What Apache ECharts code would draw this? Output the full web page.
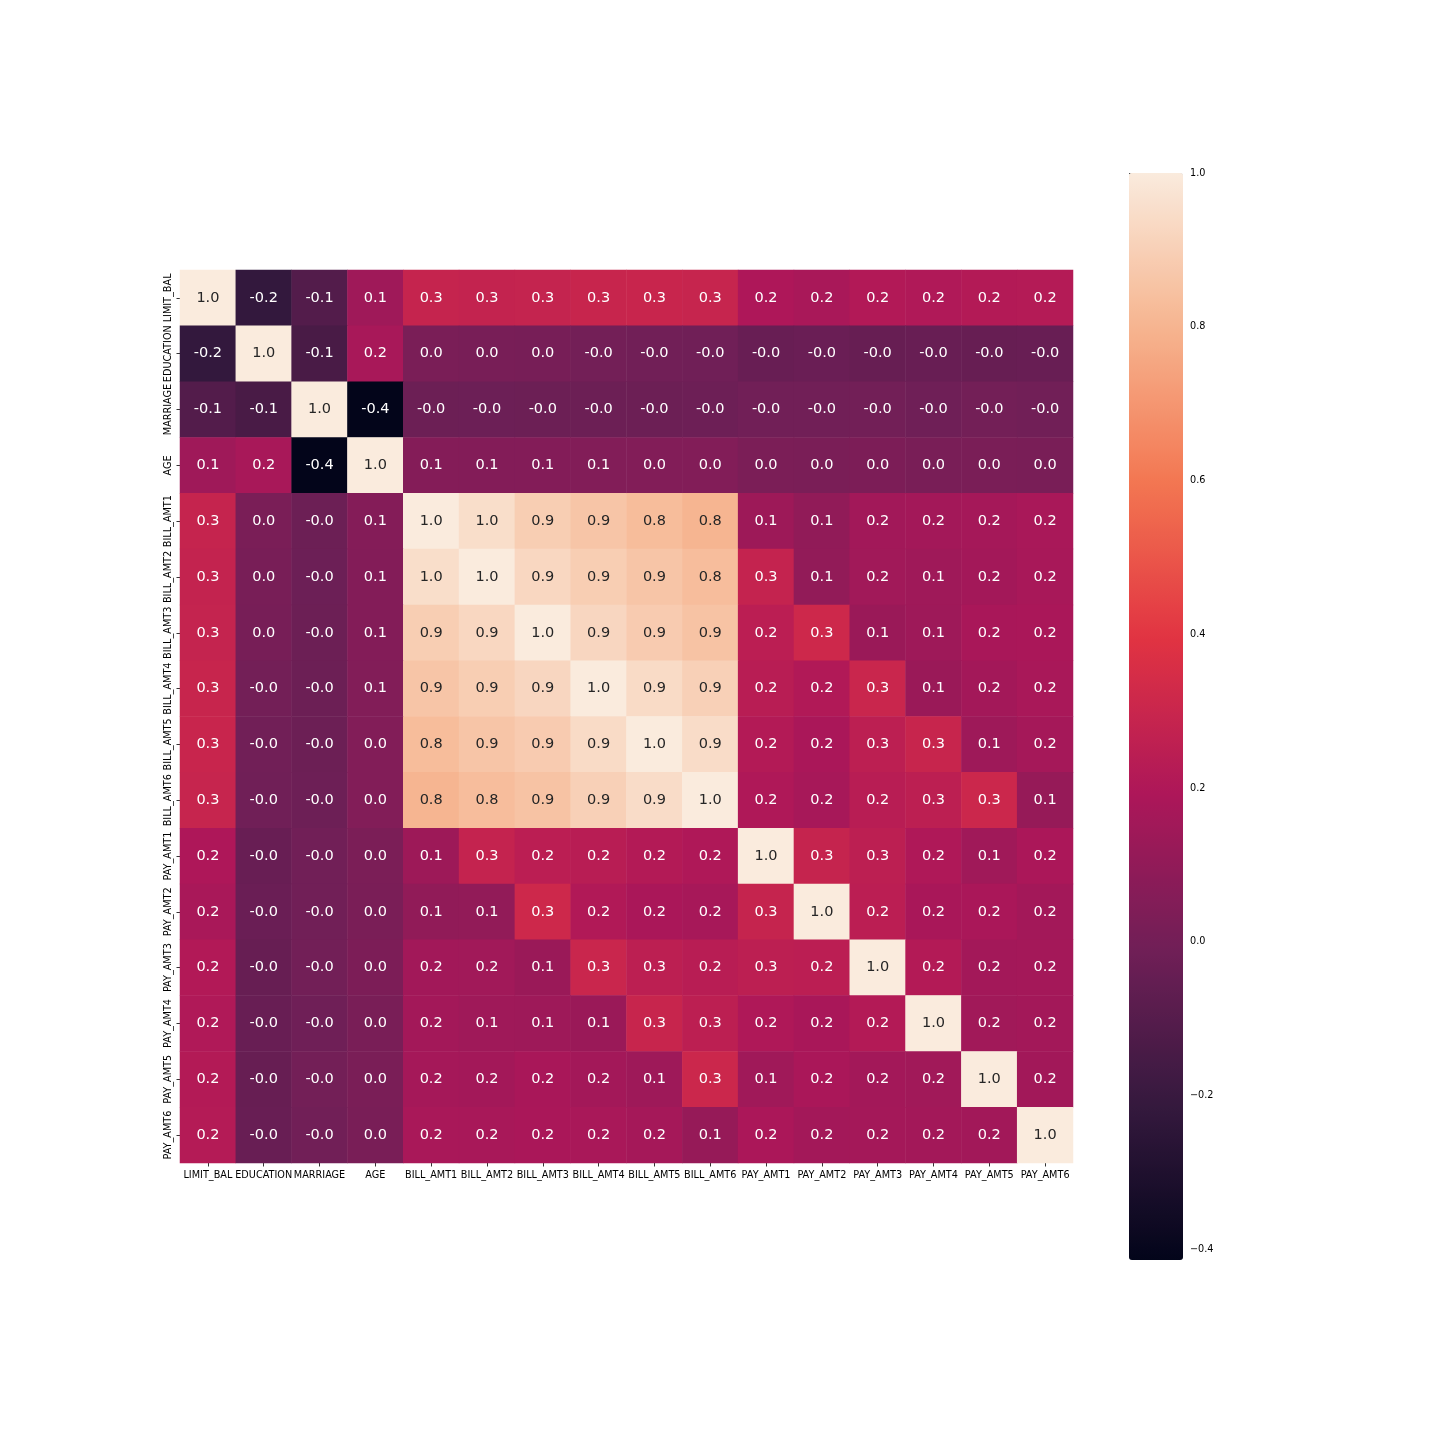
<!DOCTYPE html>
<html>
<head>
<meta charset="utf-8">
<script src="https://cdn.jsdelivr.net/npm/echarts@6/dist/echarts.min.js"></script>
<style>
  html, body { margin: 0; padding: 0; background: #fff; }
  #chart { width: 1440px; height: 1440px; }
</style>
</head>
<body>
<div id="chart"></div>
<script>
// column / row names
const labels = [
  "LIMIT_BAL", "EDUCATION", "MARRIAGE", "AGE",
  "BILL_AMT1", "BILL_AMT2", "BILL_AMT3", "BILL_AMT4", "BILL_AMT5", "BILL_AMT6",
  "PAY_AMT1", "PAY_AMT2", "PAY_AMT3", "PAY_AMT4", "PAY_AMT5", "PAY_AMT6"
];

// correlation matrix, one row per variable
const corr = [
  [1, -0.219, -0.108, 0.145, 0.285, 0.278, 0.283, 0.294, 0.296, 0.290, 0.195, 0.178, 0.210, 0.203, 0.217, 0.220],
  [-0.219, 1, -0.144, 0.175, 0.023, 0.018, 0.013, -0.0004, -0.008, -0.009, -0.037, -0.030, -0.040, -0.038, -0.040, -0.037],
  [-0.108, -0.144, 1, -0.414, -0.023, -0.022, -0.025, -0.023, -0.025, -0.021, -0.006, -0.008, -0.004, -0.013, -0.001, -0.007],
  [0.145, 0.175, -0.414, 1, 0.056, 0.054, 0.054, 0.051, 0.049, 0.048, 0.026, 0.022, 0.029, 0.021, 0.023, 0.019],
  [0.285, 0.023, -0.023, 0.056, 1, 0.951, 0.892, 0.860, 0.830, 0.803, 0.140, 0.099, 0.157, 0.159, 0.167, 0.179],
  [0.278, 0.018, -0.022, 0.054, 0.951, 1, 0.928, 0.892, 0.860, 0.832, 0.280, 0.101, 0.151, 0.147, 0.158, 0.174],
  [0.283, 0.013, -0.025, 0.054, 0.892, 0.928, 1, 0.924, 0.884, 0.853, 0.245, 0.317, 0.130, 0.143, 0.180, 0.182],
  [0.294, -0.0004, -0.023, 0.051, 0.860, 0.892, 0.924, 1, 0.940, 0.901, 0.233, 0.208, 0.300, 0.130, 0.160, 0.178],
  [0.296, -0.008, -0.025, 0.049, 0.830, 0.860, 0.884, 0.940, 1, 0.946, 0.217, 0.181, 0.252, 0.294, 0.142, 0.164],
  [0.290, -0.009, -0.021, 0.048, 0.803, 0.832, 0.853, 0.901, 0.946, 1, 0.200, 0.173, 0.234, 0.2504, 0.308, 0.115],
  [0.195, -0.037, -0.006, 0.026, 0.140, 0.280, 0.245, 0.233, 0.217, 0.200, 1, 0.286, 0.252, 0.200, 0.148, 0.186],
  [0.178, -0.030, -0.008, 0.022, 0.099, 0.101, 0.317, 0.208, 0.181, 0.173, 0.286, 1, 0.245, 0.180, 0.181, 0.158],
  [0.210, -0.040, -0.004, 0.029, 0.157, 0.151, 0.130, 0.300, 0.252, 0.234, 0.252, 0.245, 1, 0.216, 0.159, 0.163],
  [0.203, -0.038, -0.013, 0.021, 0.159, 0.147, 0.143, 0.130, 0.294, 0.2504, 0.200, 0.180, 0.216, 1, 0.152, 0.158],
  [0.217, -0.040, -0.001, 0.023, 0.167, 0.158, 0.180, 0.160, 0.142, 0.308, 0.148, 0.181, 0.159, 0.152, 1, 0.155],
  [0.220, -0.037, -0.007, 0.019, 0.179, 0.174, 0.182, 0.178, 0.164, 0.115, 0.186, 0.158, 0.163, 0.158, 0.155, 1]
];

// colorbar ticks
const cbarTicks = [-0.4, -0.2, 0.0, 0.2, 0.4, 0.6, 0.8, 1.0];
const vMin = -0.414;
const vMax = 1.0;

// seaborn "rocket" colormap, evenly spaced stops
const rocket = ["#03051a", "#35193e", "#701f57", "#ad1759", "#e13342", "#f37651", "#f6b48f", "#faebdd"];

const font = "DejaVu Sans";

const cells = [];
corr.forEach(function (row, y) {
  row.forEach(function (v, x) {
    cells.push({
      value: [x, y, v],
      label: { color: v > 0.6 ? "#262626" : "#ffffff" }
    });
  });
});

const chart = echarts.init(document.getElementById("chart"));
const option = {
  animation: false,
  backgroundColor: "#ffffff",
  grid: [
    { left: 180, top: 270, width: 893, height: 893, containLabel: false },
    { left: 1129, top: 173, width: 54, height: 1087, containLabel: false }
  ],
  xAxis: [
    {
      type: "category",
      gridIndex: 0,
      data: labels,
      position: "bottom",
      axisLine: { show: false },
      axisTick: { show: true, alignWithLabel: true, length: 3.5, lineStyle: { color: "#000", width: 0.8 } },
      axisLabel: { interval: 0, margin: 7, color: "#000", fontFamily: font, fontSize: 9.7 },
      splitLine: { show: false }
    },
    { type: "value", gridIndex: 1, show: false, min: 0, max: 1 }
  ],
  yAxis: [
    {
      type: "category",
      gridIndex: 0,
      data: labels,
      inverse: true,
      axisLine: { show: false },
      axisTick: { show: true, alignWithLabel: true, length: 3.5, lineStyle: { color: "#000", width: 0.8 } },
      axisLabel: { interval: 0, rotate: 90, margin: 7, color: "#000", fontFamily: font, fontSize: 9.7 },
      splitLine: { show: false }
    },
    {
      type: "value",
      gridIndex: 1,
      position: "right",
      min: vMin,
      max: vMax,
      axisLine: { show: false },
      splitLine: { show: false },
      axisTick: { show: true, length: 3.5, customValues: cbarTicks, lineStyle: { color: "#000", width: 0.8 } },
      axisLabel: {
        margin: 7,
        customValues: cbarTicks,
        color: "#000",
        fontFamily: font,
        fontSize: 9.7,
        formatter: function (v) { return v.toFixed(1).replace("-", "\u2212"); }
      }
    }
  ],
  visualMap: {
    type: "continuous",
    seriesIndex: 0,
    dimension: 2,
    min: vMin,
    max: vMax,
    calculable: false,
    hoverLink: false,
    orient: "vertical",
    left: 1129,
    top: 173,
    padding: 0,
    itemWidth: 54,
    itemHeight: 1087,
    handleSize: 0,
    indicatorSize: 0,
    text: null,
    showLabel: false,
    inRange: { color: rocket }
  },
  series: [
    {
      type: "heatmap",
      xAxisIndex: 0,
      yAxisIndex: 0,
      data: cells,
      itemStyle: { borderWidth: 0 },
      label: {
        show: true,
        fontFamily: font,
        fontSize: 14.5,
        formatter: function (p) { return p.value[2].toFixed(1); }
      },
      emphasis: { disabled: true }
    }
  ]
};
chart.setOption(option);
</script>
</body>
</html>
